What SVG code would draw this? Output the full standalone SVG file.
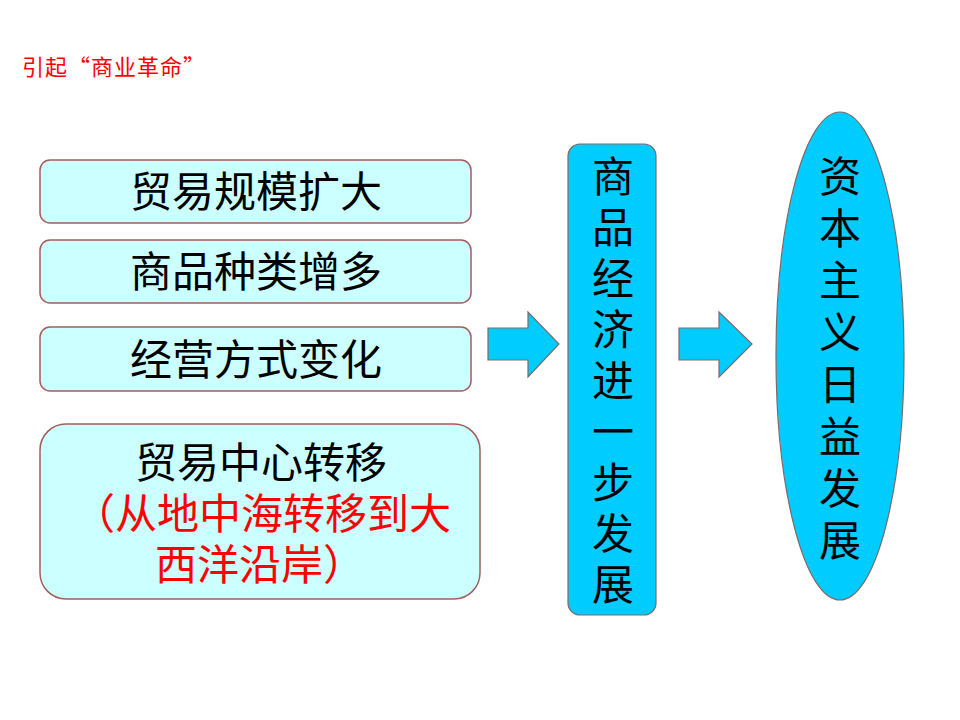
<svg xmlns="http://www.w3.org/2000/svg" width="960" height="720" viewBox="0 0 960 720">
<style>
.t{font-family:"Noto Sans CJK SC","Liberation Sans",sans-serif;}
.box{fill:#CCFFFF;stroke:#A0605A;stroke-width:1.5;}
.blue{fill:#00CCFF;stroke:#7A6A6A;stroke-width:1.2;}
.lbl{font-size:42px;fill:#000;text-anchor:middle;}
.red{fill:#FF0000;}
.vert{writing-mode:vertical-rl;font-size:42px;fill:#000;}
</style>
<rect width="960" height="720" fill="#fff"/>
<text class="t red" x="22" y="75" font-size="22" letter-spacing="1">引起“商业革命”</text>
<g id="n1"><rect class="box" x="40" y="160" width="431" height="63" rx="10"/><text class="t lbl" x="256" y="207">贸易规模扩大</text></g>
<g id="n2"><rect class="box" x="40" y="240" width="431" height="63" rx="10"/><text class="t lbl" x="256" y="287">商品种类增多</text></g>
<g id="n3"><rect class="box" x="40" y="327" width="431" height="64" rx="10"/><text class="t lbl" x="256" y="375">经营方式变化</text></g>
<g id="n4"><rect class="box" x="40" y="424" width="440" height="175" rx="26"/>
<text class="t" font-size="42"><tspan x="261" y="478" text-anchor="middle">贸易中心转移</tspan><tspan class="red" x="73" y="529">（从地中海转移到大</tspan><tspan class="red" x="155" y="580">西洋沿岸）</tspan></text></g>
<g id="n5"><rect class="blue" x="568" y="144" width="88" height="471" rx="12"/>
<text class="t vert" x="613" y="155" letter-spacing="9">商品经济进一步发展</text></g>
<g id="n6"><ellipse class="blue" cx="840" cy="356" rx="64" ry="244"/>
<text class="t vert" x="840" y="155" letter-spacing="10">资本主义日益发展</text></g>
<g id="connectors">
<polygon class="blue" points="488,328 528,328 528,312 559,344 528,377 528,360 488,360"/>
<polygon class="blue" points="679,328 719,328 719,312 752,344 719,377 719,360 679,360"/>
</g>
</svg>
